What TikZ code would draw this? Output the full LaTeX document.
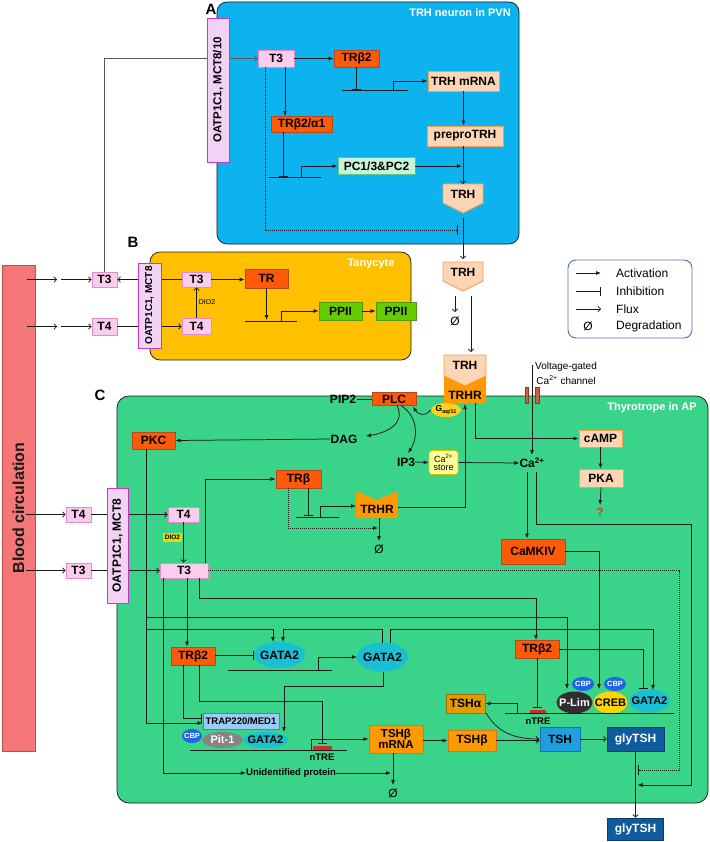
\documentclass[tikz,border=0pt]{standalone}
\usepackage{fontspec}
\setmainfont{Liberation Sans}
\usetikzlibrary{arrows.meta,shapes.geometric,calc}
\definecolor{cA}{HTML}{0DB3EF}
\definecolor{cB}{HTML}{FFC000}
\definecolor{cC}{HTML}{3AD38A}
\definecolor{blood}{HTML}{F47676}
\definecolor{bloodb}{HTML}{C44A4A}
\definecolor{pinkf}{HTML}{F9CDEB}
\definecolor{pinkb}{HTML}{E38BCB}
\definecolor{oatpf}{HTML}{F2D3F5}
\definecolor{oatpb}{HTML}{C738C7}
\definecolor{redf}{HTML}{FF5A0A}
\definecolor{redb}{HTML}{B5471A}
\definecolor{peachf}{HTML}{FCD5B4}
\definecolor{peachb}{HTML}{F5A050}
\definecolor{mintf}{HTML}{C9F5D7}
\definecolor{mintb}{HTML}{5FC486}
\definecolor{ppiif}{HTML}{66CC00}
\definecolor{ppiib}{HTML}{4C9A10}
\definecolor{orf}{HTML}{FF9900}
\definecolor{orb}{HTML}{D07A10}
\definecolor{tshaf}{HTML}{E29C00}
\definecolor{tshab}{HTML}{A87000}
\definecolor{tshf}{HTML}{1E9FDF}
\definecolor{tshb}{HTML}{1570B0}
\definecolor{glyf}{HTML}{105A9E}
\definecolor{glyb}{HTML}{0A3C6E}
\definecolor{gataf}{HTML}{19BFD3}
\definecolor{cbpf}{HTML}{1F66E5}
\definecolor{plimf}{HTML}{2F2F2F}
\definecolor{crebf}{HTML}{FFD500}
\definecolor{pitf}{HTML}{858585}
\definecolor{trapf}{HTML}{9DCBF7}
\definecolor{trapb}{HTML}{3A86D0}
\definecolor{storef}{HTML}{FFFF99}
\definecolor{storeb}{HTML}{D6C200}
\definecolor{gaqf}{HTML}{FFD21A}
\definecolor{diof}{HTML}{E8D800}
\definecolor{ntre}{HTML}{D42A2A}
\definecolor{chanf}{HTML}{D0603A}
\definecolor{chanb}{HTML}{8A3A20}
\definecolor{legb}{HTML}{4A6FB0}
\definecolor{ln}{HTML}{1A1A1A}
\definecolor{gryl}{HTML}{5A5A5A}
\definecolor{qred}{HTML}{D83A2A}
\newcommand{\myfs}[1]{\fontsize{#1}{#1}\selectfont}
\begin{document}
\begin{tikzpicture}[x=1pt,y=-1pt,
  lw/.style={line width=0.75pt, draw=ln},
  act/.style={lw, -{Latex[length=5pt,width=4pt]}},
  flux/.style={lw, -{Straight Barb[length=2.5pt,width=5.5pt]}},
  inh/.style={lw, -{Bar[width=9pt,line width=0.9pt]}},
  dots/.style={lw, dash pattern=on 1pt off 1pt},
  box/.style={draw, line width=0.9pt, inner sep=0pt, font=\bfseries\myfs{12}},
  pinkbox/.style={box, fill=pinkf, draw=pinkb},
  oatp/.style={box, fill=oatpf, draw=oatpb, rotate=90, font=\bfseries\myfs{11.5}},
  redbox/.style={box, fill=redf, draw=redb},
  peachbox/.style={box, fill=peachf, draw=peachb},
  mintbox/.style={box, fill=mintf, draw=mintb},
  greenbox/.style={box, fill=ppiif, draw=ppiib},
  orbox/.style={box, fill=orf, draw=orb},
  ell/.style={ellipse, inner sep=0pt},
  txt/.style={inner sep=0pt, font=\bfseries\myfs{12}},
  etxt/.style={inner sep=0pt, font=\bfseries\myfs{11}},
  deg/.style={inner sep=0pt, font=\myfs{12}},
  title/.style={inner sep=0pt, text=white, font=\bfseries\myfs{11}},
  panlab/.style={inner sep=0pt, font=\bfseries\myfs{15}},
  legtxt/.style={inner sep=0pt, anchor=west, font=\myfs{12}},
  gene/.style={lw}
]
\useasboundingbox (0,0) rectangle (709,842);

% ================= Blood =================
\node[draw=bloodb, fill=blood, line width=0.8pt, minimum width=33pt, minimum height=486pt, inner sep=0pt] (blood) at (18.5,508) {};
\node[rotate=90, font=\bfseries\myfs{16}, text=ln, inner sep=0pt] (bloodlab) at (18.5,508) {Blood circulation};

% ================= Panel A =================
\draw[lw, fill=cA, rounded corners=10pt] (217,2) rectangle (519,244);
\node[panlab] (labA) at (211,9) {A};
\node[title] (titA) at (460,13) {TRH neuron in PVN};

\node[pinkbox, minimum width=36pt, minimum height=17pt] (t3A) at (276,58.5) {T3};
\node[redbox, minimum width=45pt, minimum height=17pt] (trb2A) at (356.5,58.5) {TRβ2};
\node[peachbox, minimum width=71pt, minimum height=20pt] (trhmrna) at (463.5,81) {TRH mRNA};
\node[peachbox, minimum width=76pt, minimum height=20pt] (prepro) at (465,136) {preproTRH};
\node[redbox, minimum width=61pt, minimum height=16pt] (trba1) at (301.5,124.5) {TRβ2/α1};
\node[mintbox, minimum width=77pt, minimum height=17pt] (pc) at (376.5,166) {PC1/3\&PC2};
\filldraw[fill=peachf, draw=peachb, line width=0.9pt] (443,184) -- (483,184) -- (483,203) -- (463,213) -- (443,203) -- cycle;
\node[txt, minimum width=40pt, minimum height=19pt] (trhA) at (463,194) {TRH};
\coordinate (trhAtip) at (463,218);

% ================= Panel B =================
\draw[lw, fill=cB, rounded corners=10pt] (150,252) rectangle (411,360);
\node[panlab] (labB) at (133,242) {B};
\node[title] (titB) at (371,264) {Tanycyte};

\node[pinkbox, minimum width=25pt, minimum height=15pt] (t3Bbl) at (104.5,279.5) {T3};
\node[pinkbox, minimum width=25pt, minimum height=17pt] (t4Bbl) at (104.5,326.5) {T4};
\node[pinkbox, minimum width=29pt, minimum height=15pt] (t3Bt) at (196.5,279.5) {T3};
\node[pinkbox, minimum width=29pt, minimum height=16pt] (t4Bt) at (196.5,326) {T4};
\node[redbox, minimum width=43pt, minimum height=19pt] (trB) at (266.5,278.5) {TR};
\node[greenbox, minimum width=43pt, minimum height=18pt] (ppii1) at (340.5,311) {PPII};
\node[greenbox, minimum width=40pt, minimum height=18pt] (ppii2) at (396,311) {PPII};
\node[inner sep=0pt, font=\myfs{7}] (dioB) at (207,302) {DIO2};

% ---- connectors A ----
\coordinate (oAin) at (207,58.5);
\coordinate (oAout) at (229,58.5);
\draw[lw, draw=gryl] (t3Bbl.north) |- (oAin);
\draw[flux, draw=gryl] (oAout) -- (t3A.west);
\node[oatp, minimum width=144pt, minimum height=22pt] (oatpA) at (218,90) {OATP1C1, MCT8/10};
\draw[act] (t3A.east) -- (trb2A.west);
\coordinate (g1a) at (342,90); \coordinate (g1b) at (408,90); \coordinate (g1c) at (393,90);
\draw[gene] (g1a) -- (g1b);
\draw[inh] (trb2A.south) -- (trb2A.south |- g1a);
\draw[act] (g1c) |- (trhmrna.west);
\draw[act] (trhmrna.south) -- (trhmrna.south |- prepro.north);
\coordinate (c1) at (285,67);
\draw[act] (c1) -- (c1 |- trba1.north);
\coordinate (g2a) at (269,177); \coordinate (g2b) at (321,177); \coordinate (g2c) at (301,177); \coordinate (c2) at (283,132.5);
\draw[gene] (g2a) -- (g2b);
\draw[inh] (c2) -- (c2 |- g2a);
\draw[act] (g2c) |- (pc.west);
\coordinate (j1) at (463,166);
\draw[act, shorten >=1pt] (pc.east) -- (j1);
\draw[flux] (prepro.south -| trhA) -- (trhA.north |- 0,184);
\coordinate (d1) at (265,67); \coordinate (d2) at (265,230); \coordinate (d3) at (458,230);
\draw[dots, -{Bar[width=10pt,line width=0.9pt]}] (d1) -- (d2) -- (d3);

% ---- TRH outside ----
\filldraw[fill=peachf, draw=peachb, line width=0.9pt] (443,262) -- (483,262) -- (483,281) -- (463,291) -- (443,281) -- cycle;
\node[txt, minimum width=40pt, minimum height=19pt] (trhO) at (463,272) {TRH};
\draw[flux] (trhAtip) -- (463,259);
\coordinate (dgA) at (455,296);
\draw[flux] (dgA) -- (455,312);
\node[deg] (degA) at (455,321) {Ø};
\coordinate (trO) at (471,296);
\draw[flux] (trO) -- (471,352);

% ---- connectors B ----
\coordinate (bA1) at (27,279.5); \coordinate (bA2) at (57,279.5); \coordinate (bA3) at (61,279.5);
\draw[flux] (bA1) -- (bA2); \draw[flux] (bA3) -- (t3Bbl.west);
\coordinate (bB1) at (27,326.5); \coordinate (bB2) at (57,326.5); \coordinate (bB3) at (61,326.5);
\draw[flux] (bB1) -- (bB2); \draw[flux] (bB3) -- (t4Bbl.west);
\coordinate (oBl3) at (138,279.5); \coordinate (oBr3) at (161,279.5);
\coordinate (oBl4) at (138,326.5); \coordinate (oBr4) at (161,326.5);
\draw[lw] (t3Bt.west) -- (oBr3);
\draw[flux] (oBl3) -- (t3Bbl.east);
\draw[lw] (t4Bbl.east) -- (oBl4);
\draw[flux] (oBr4) -- (t4Bt.west |- oBr4);
\node[oatp, minimum width=85pt, minimum height=23pt, font=\bfseries\myfs{10}] (oatpB) at (149.5,305.5) {OATP1C1, MCT8};
\draw[flux] (t4Bt.north) -- (t3Bt.south);
\draw[act] (t3Bt.east) -- (t3Bt.east -| trB.west);
\coordinate (g3a) at (245,321); \coordinate (g3b) at (297,321); \coordinate (g3c) at (281,321);
\draw[gene] (g3a) -- (g3b);
\draw[act] (trB.south) -- ($(trB.south |- g3a)+(0,-1)$);
\draw[act] (g3c) |- (ppii1.west);
\draw[act] (ppii1.east) -- (ppii2.west);

% ================= Legend =================
\node[draw=legb, line width=0.9pt, rounded corners=8pt, minimum width=124pt, minimum height=78pt, inner sep=0pt] (legend) at (630,299) {};
\coordinate (la1) at (576,273); \coordinate (la2) at (601,273);
\coordinate (lb1) at (576,291); \coordinate (lb2) at (601,291);
\coordinate (lc1) at (576,309); \coordinate (lc2) at (601,309);
\draw[act] (la1) -- (la2);
\draw[inh] (lb1) -- (lb2);
\draw[flux] (lc1) -- (lc2);
\node[legtxt] (lt1) at (616,273) {Activation};
\node[legtxt] (lt2) at (616,291) {Inhibition};
\node[legtxt] (lt3) at (616,309) {Flux};
\node[deg] (lt4s) at (588,326) {Ø};
\node[legtxt] (lt4) at (616,326) {Degradation};

% ================= Panel C =================
\draw[lw, fill=cC, rounded corners=12pt] (117,396) rectangle (708,803);
\node[panlab] (labC) at (100,395) {C};
\node[title] (titC) at (652,408) {Thyrotrope in AP};

% membrane TRH / TRHR
\filldraw[fill=peachf, draw=peachb, line width=0.9pt] (444,355) -- (486,355) -- (486,376) -- (465,386) -- (444,376) -- cycle;
\node[txt, minimum width=42pt, minimum height=20pt] (trhM) at (465,365.5) {TRH};
\fill[orf] (444,376) -- (465,386) -- (486,376) -- (486,403) -- (444,403) -- cycle;
\node[txt, minimum width=42pt, minimum height=14pt] (trhrM) at (465,395) {TRHR};
\node[ell, fill=gaqf, minimum width=30pt, minimum height=14pt] (gaq) at (446,410) {};
\node[inner sep=0pt] (gaqt) at (446,410) {\bfseries\myfs{8.5}G\raisebox{-1.5pt}{\myfs{5.5}αq/11}};

% channel
\filldraw[fill=chanf, draw=chanb, line width=0.4pt] (525,387) rectangle (528.5,403);
\filldraw[fill=chanf, draw=chanb, line width=0.4pt] (535.5,387) rectangle (539,403);
\node[inner sep=0pt, font=\myfs{10}] (vg1) at (566,367) {Voltage-gated};
\node[inner sep=0pt, font=\myfs{10}] (vg2) at (566,380) {Ca\textsuperscript{2+} channel};

\node[redbox, minimum width=44pt, minimum height=13pt] (plc) at (394,399) {PLC};
\node[txt] (pip2) at (343,399) {PIP2};
\node[redbox, minimum width=43pt, minimum height=17pt] (pkc) at (153.5,440.5) {PKC};
\node[txt] (dag) at (344,439) {DAG};
\node[txt] (ip3) at (406,462) {IP3};
\node[draw=storeb, fill=storef, line width=0.7pt, rounded corners=3pt, minimum width=29pt, minimum height=24pt, inner sep=0pt, align=center, font=\myfs{9}] (store) at (443.5,462.5) {Ca\textsuperscript{2+}\\[-1pt]store};
\node[txt] (ca) at (532,463) {Ca\textsuperscript{2+}};
\node[peachbox, minimum width=43pt, minimum height=17pt] (camp) at (600.5,438.5) {cAMP};
\node[peachbox, minimum width=44pt, minimum height=18pt] (pka) at (601,478) {PKA};
\node[txt, text=qred] (qm) at (600,512) {?};
\node[redbox, minimum width=64pt, minimum height=25pt] (camk) at (533,551.5) {CaMKIV};

\node[redbox, minimum width=45pt, minimum height=18pt] (trbC) at (298.5,479) {TRβ};
\fill[orf] (356,491) -- (377,500) -- (398,491) -- (398,518) -- (356,518) -- cycle;
\node[txt, minimum width=42pt, minimum height=14pt] (trhrC) at (377,509) {TRHR};
\node[deg] (degC1) at (379,549) {Ø};

% T4/T3 entry
\node[pinkbox, minimum width=25pt, minimum height=15pt] (t4Cbl) at (78.5,514.5) {T4};
\node[pinkbox, minimum width=25pt, minimum height=15pt] (t3Cbl) at (78.5,570.5) {T3};
\node[pinkbox, minimum width=31pt, minimum height=15pt] (t4C) at (183.5,514.5) {T4};
\node[pinkbox, minimum width=48pt, minimum height=15pt] (t3C) at (184,570.5) {T3};
\node[draw=none, fill=diof, minimum width=19pt, minimum height=9pt, inner sep=0pt, font=\bfseries\myfs{6.5}] (dioC) at (172.5,537.5) {DIO2};

\node[redbox, minimum width=44pt, minimum height=18pt] (trb2L) at (193,656) {TRβ2};
\node[ell, fill=gataf, minimum width=51pt, minimum height=26pt] (gataL) at (279.5,655) {};
\node[txt] (gataLt) at (279.5,655) {GATA2};
\node[ell, fill=gataf, minimum width=51pt, minimum height=29pt] (gataM) at (382.5,657) {};
\node[txt] (gataMt) at (382.5,657) {GATA2};
\node[draw=trapb, fill=trapf, line width=0.9pt, minimum width=76pt, minimum height=16pt, inner sep=0pt, font=\bfseries\myfs{9.5}] (trap) at (241,721) {TRAP220/MED1};
\node[ell, fill=gataf, minimum width=45pt, minimum height=16pt] (gataB) at (265.5,740) {};
\node[etxt] (gataBt) at (265.5,740) {GATA2};
\node[ell, fill=pitf, minimum width=41pt, minimum height=16pt] (pit) at (222.5,740) {};
\node[etxt, text=white] (pitt) at (222.5,740) {Pit-1};
\node[ell, fill=cbpf, minimum width=20pt, minimum height=14pt] (cbpL) at (192,736) {};
\node[inner sep=0pt, text=white, font=\bfseries\myfs{7.5}] (cbpLt) at (192,736) {CBP};
\node[orbox, minimum width=54pt, minimum height=28pt, align=center, font=\bfseries\myfs{11.5}] (tshbm) at (396,739) {TSHβ\\[0pt]mRNA};
\node[orbox, minimum width=48pt, minimum height=21pt] (tshb) at (472,740.5) {TSHβ};
\node[box, fill=tshaf, draw=tshab, minimum width=39pt, minimum height=19pt] (tsha) at (465.5,703.5) {TSHα};
\node[box, fill=tshf, draw=tshb, minimum width=40pt, minimum height=24pt] (tsh) at (560,739) {TSH};
\node[box, fill=glyf, draw=glyb, text=white, minimum width=57pt, minimum height=24pt] (gly) at (635.5,739) {glyTSH};
\node[box, fill=glyf, draw=glyb, text=white, minimum width=56pt, minimum height=22pt] (gly2) at (635.5,829) {glyTSH};
\node[redbox, minimum width=44pt, minimum height=18pt] (trb2R) at (537,649) {TRβ2};
\node[ell, fill=plimf, minimum width=36pt, minimum height=22pt] (plim) at (574.5,702.5) {};
\node[etxt, text=white] (plimt) at (574.5,703) {P-Lim};
\node[ell, fill=crebf, minimum width=34pt, minimum height=22pt] (creb) at (610.5,702.5) {};
\node[etxt] (crebt) at (610.5,703) {CREB};
\node[ell, fill=gataf, minimum width=40pt, minimum height=23pt] (gataR) at (649.5,701) {};
\node[etxt] (gataRt) at (649.5,701) {GATA2};
\node[ell, fill=cbpf, minimum width=22pt, minimum height=14pt] (cbp1) at (583,684) {};
\node[inner sep=0pt, text=white, font=\bfseries\myfs{7.5}] (cbp1t) at (583,684) {CBP};
\node[ell, fill=cbpf, minimum width=22pt, minimum height=14pt] (cbp2) at (615,684) {};
\node[inner sep=0pt, text=white, font=\bfseries\myfs{7.5}] (cbp2t) at (615,684) {CBP};
\node[txt, font=\bfseries\myfs{9.5}] (unid) at (291,773) {Unidentified protein};
\node[deg] (degC2) at (393,793) {Ø};

% ---- connectors C top ----
\coordinate (pipe) at (357,399);
\draw[lw] (pipe) -- (plc.west);
\draw[act] (dag.west) -- (pkc.east);
\draw[act] (gaq.west) .. controls (424,418) and (417,413) .. (413,406.5);
\draw[act] (397,405.5) .. controls (406,424) and (386,433) .. (366,436);
\draw[act] (401,405.5) .. controls (420,418) and (417,440) .. (408,453);
\draw[act] (ip3.east) -- (store.west);
\draw[act] (store.east) -- (ca.west);
\coordinate (vgtop) at (532,365);
\draw[act] (vgtop) -- (532,455);
\coordinate (rm1) at (475,403);
\draw[act] (rm1) |- (camp.west);
\draw[act] (camp.south) -- (camp.south |- pka.north);
\draw[act] (pka.south) -- (600,505);
\coordinate (ca1) at (527,472); \coordinate (ca2) at (536,472);
\draw[act] (ca1) -- (ca1 |- camk.north);
\coordinate (secr) at (637.5,785);
\draw[act] (ca2) -- (536,524) -- (691,524) |- (secr);

% TRbeta / TRHR
\coordinate (g4a) at (296,517); \coordinate (g4b) at (339,517); \coordinate (g4c) at (320,517); \coordinate (c4) at (308,488);
\draw[gene] (g4a) -- (g4b);
\draw[inh] (c4) -- (308,516);
\draw[act] (g4c) |- (356,506);
\coordinate (c5) at (288,488);
\draw[dots, -{Latex[length=5pt,width=4pt]}] (c5) -- (288,528) -- (378,528);
\draw[act] (379,518) -- (379,541);
\coordinate (rc1) at (398,507);
\draw[act] (rc1) -- (465,507) -- (465,404);

% entry C
\coordinate (bC1) at (26,514.5); \coordinate (bC2) at (26,570.5);
\draw[flux] (bC1) -- (t4Cbl.west);
\draw[flux] (bC2) -- (t3Cbl.west);
\coordinate (oCl4) at (107,514.5); \coordinate (oCr4) at (128,514.5);
\coordinate (oCl3) at (107,570.5); \coordinate (oCr3) at (128,570.5);
\draw[lw] (t4Cbl.east) -- (oCl4);
\draw[lw] (t3Cbl.east) -- (oCl3);
\draw[flux] (oCr4) -- (t4C.west);
\draw[flux] (oCr3) -- (t3C.west);
\node[oatp, minimum width=115pt, minimum height=21pt, font=\bfseries\myfs{12}] (oatpC) at (117.5,545.5) {OATP1C1, MCT8};
\draw[flux] (t4C.south) -- (t4C.south |- t3C.north);

% PKC lines
\coordinate (pk1) at (146,449); \coordinate (pk2) at (146,723);
\draw[act] (pk1) -- (pk2) -- (trap.west |- pk2);
\coordinate (pk3) at (146,617); \coordinate (pk4) at (146,629);
\draw[act] (pk3) -- (567,617) -- (567,689);
\draw[act] (pk4) -- (273,629) -- (273,642);
% T3 lines
\coordinate (t3a1) at (205,563);
\draw[act] (t3a1) |- (trbC.west);
\coordinate (t3b1) at (187,578);
\draw[act] (t3b1) -- (t3b1 |- trb2L.north);
\coordinate (t3c1) at (199,578);
\draw[act] (t3c1) -- (199,598) -- (536,598) -- (536,640);
\coordinate (t3d1) at (163,578);
\draw[act] (t3d1) |- (unid.west);
\draw[act] (unid.east) -- (391,773);
\draw[dots, -{Bar[width=10pt,line width=0.9pt]}] (t3C.east) -- (679,570.5) -- (679,770) -- (638,770);

% TRb2 left
\draw[inh] (trb2L.east |- gataL) -- (gataL.west);
\coordinate (g5a) at (228,670); \coordinate (g5b) at (332,670); \coordinate (g5c) at (318,670);
\draw[gene] (g5a) -- (g5b);
\draw[act] (g5c) |- (gataM.west);
\draw[act] (382,643) -- (382,629) -- (283,629) -- (283,642);
\draw[act] (390,643) -- (390,629) -- (653,629) -- (653,690);
\draw[act] (383,671.5) -- (383,686) -- (284,686) -- (284,732);
\coordinate (tl1) at (183,665); \coordinate (tl2) at (199,665);
\draw[inh] (tl1) -- (183,718) -- (202,718);
\draw[inh] (tl2) -- (199,701) -- (322,701) -- (322,744);
\coordinate (g6a) at (190,750); \coordinate (g6b) at (347,750); \coordinate (g6c) at (311,750);
\draw[gene] (g6a) -- (g6b);
\fill[ntre] (313,745.5) rectangle (332,750);
\node[txt, font=\bfseries\myfs{9.5}] (ntre1) at (322,757.5) {nTRE};
\draw[act] (g6c) |- (tshbm.west);
\draw[act] (tshbm.south -| 393,0) -- (393,785);
\draw[act] (tshbm.east |- tshb) -- (tshb.west);
\draw[flux] (tshb.east) -- (tshb.east -| tsh.west);
\draw[flux] (tsh.east) -- (gly.west);
\draw[flux] (gly.south) -- (gly2.north);
\draw[flux] (486,713) .. controls (498,733) and (515,739) .. (539,739);

% TRb2 right
\coordinate (g7a) at (505,713); \coordinate (g7b) at (674,713); \coordinate (g7c) at (517,713);
\draw[gene] (g7a) -- (g7b);
\draw[inh] (trb2R.south) -- (537,708);
\fill[ntre] (530,709.5) rectangle (546,713);
\node[txt, font=\bfseries\myfs{9.5}] (ntre2) at (538,721) {nTRE};
\draw[act] (g7c) |- (tsha.east);
\draw[inh] (trb2R.east) -- (643,649) -- (643,689);
\draw[act] (camk.east) -- (599,551.5) -- (599,689);
\end{tikzpicture}
\end{document}
